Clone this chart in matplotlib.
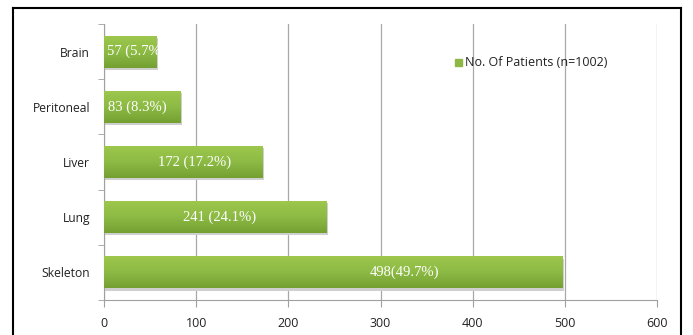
import matplotlib
matplotlib.use("Agg")
import matplotlib.pyplot as plt
import numpy as np
from matplotlib.patches import Rectangle
from matplotlib.lines import Line2D
from matplotlib.colors import LinearSegmentedColormap

categories = ["Skeleton", "Lung", "Liver", "Peritoneal", "Brain"]
values = [498, 241, 172, 83, 57]
labels = ["498(49.7%)", "241 (24.1%)", "172 (17.2%)", "83 (8.3%)", "57 (5.7%)"]
label_x = [326, 125, 98, 4, 3]
label_ha = ["center", "center", "center", "left", "left"]
xticks = [0, 100, 200, 300, 400, 500, 600]
legend_label = "No. Of Patients (n=1002)"

fig = plt.figure(figsize=(6.93, 3.35), dpi=100)
ax = fig.add_axes([104/693, 1-300/335, (657-104)/693, (300-24)/335])

ypos = np.arange(len(categories))
bars = ax.barh(ypos, values, height=0.58, color="#8db843", zorder=3)

cmap = LinearSegmentedColormap.from_list("g", ["#74a032", "#8dbb45", "#9ec74d"])
grad = np.linspace(0, 1, 100).reshape(-1, 1)
for b in bars:
    x0, y0, w, h = b.get_x(), b.get_y(), b.get_width(), b.get_height()
    # shadow
    ax.add_patch(Rectangle((x0 + 1.5, y0 - 0.04), w, h, color="#cfcfcf", zorder=2, lw=0))
    im = ax.imshow(grad, cmap=cmap, aspect="auto", extent=[x0, x0 + w, y0, y0 + h],
                   origin="lower", zorder=3.5)
    im.set_clip_path(b)

for i, (lx, lab, ha) in enumerate(zip(label_x, labels, label_ha)):
    t = ax.text(lx, ypos[i], lab, ha=ha, va="center", color="white",
                fontsize=10.5, family="Liberation Serif", zorder=5)
    t.set_clip_path(bars[i])

ax.set_xlim(0, 600)
ax.set_ylim(-0.5, len(categories) - 0.5)
ax.set_xticks(xticks)
ax.set_xticklabels([str(v) for v in xticks], fontsize=9, family="Open Sans")
ax.set_yticks(ypos)
ax.set_yticklabels(categories, fontsize=8.7, family="Open Sans")
ax.tick_params(axis="y", length=0, pad=10, colors="#222222")
ax.tick_params(axis="x", length=5, color="#a0a0a0", pad=7, labelcolor="#222222")
ax.set_yticks(np.arange(-0.5, len(categories), 1.0), minor=True)
ax.tick_params(axis="y", which="minor", length=4, color="#a0a0a0")

ax.grid(axis="x", color="#a8a8a8", lw=0.9, zorder=0)
for s in ["top", "right"]:
    ax.spines[s].set_visible(False)
ax.spines["left"].set_color("#a0a0a0")
ax.spines["bottom"].set_color("#a0a0a0")
ax.set_axisbelow(True)

# legend
fig.patches.append(Rectangle((455/693, 1-66/335), 7/693, 7/335, transform=fig.transFigure,
                             color="#8db843", figure=fig))
fig.text(465/693, 1-62/335, legend_label, fontsize=9, family="Open Sans",
         va="center", ha="left", color="#222222")

# outer border
for xs, ys in [([13/693, 13/693], [0, 1-8/335]),
               ([13/693, 681/693], [1-8/335, 1-8/335]),
               ([681/693, 681/693], [0, 1-8/335])]:
    fig.lines.append(Line2D(xs, ys, transform=fig.transFigure, color="black", lw=1.5, figure=fig))

fig.savefig("out.png", dpi=100)
